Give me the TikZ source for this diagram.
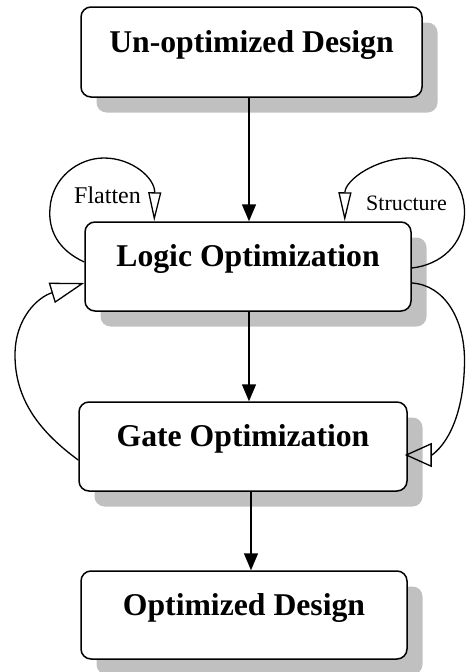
\documentclass[tikz,border=0pt]{standalone}
\usepackage{fontspec}
\setmainfont{Liberation Serif}
\usetikzlibrary{arrows.meta,shadows}
\definecolor{shadowgray}{RGB}{192,192,192}

\tikzset{
  stagebox/.style={
    draw, line width=1.5pt, rounded corners=10pt, fill=white,
    inner sep=0pt, text height=10pt, text depth=10pt,
    font=\bfseries\fontsize{31.7}{36}\selectfont,
    general shadow={fill=shadowgray, shadow xshift=15.5pt, shadow yshift=-15.5pt}
  },
  flow/.style={line width=1.5pt, -{Triangle[length=17pt,width=14pt]}},
  loopline/.style={line width=1.3pt},
  looplabel/.style={inner sep=0pt, anchor=base, font=\fontsize{22}{26}\selectfont}
}

\begin{document}
\begin{tikzpicture}[x=1pt,y=-1pt]
\useasboundingbox (0,0) rectangle (466,672);

% flow stages
\node[stagebox, minimum width=341pt, minimum height=90pt] (b1) at (251.5,52) {Un-optimized Design};
\node[stagebox, minimum width=326pt, minimum height=89pt] (b2) at (248,266.5) {Logic Optimization};
\node[stagebox, minimum width=328pt, minimum height=89pt] (b3) at (243,446.5) {Gate Optimization};
\node[stagebox, minimum width=326pt, minimum height=88pt] (b4) at (244,615) {Optimized Design};

% main downward flow
\coordinate (x12) at (249,0);
\coordinate (x23) at (249,0);
\coordinate (x34) at (251,0);
\draw[flow] (b1.south -| x12) -- (b2.north -| x12);
\draw[flow] (b2.south -| x23) -- (b3.north -| x23);
\draw[flow] (b3.south -| x34) -- (b4.north -| x34);

% Flatten self-loop
\draw[loopline, -{Triangle[open,length=29pt,width=13pt]}]
  ([yshift=4.5pt]b2.west) .. controls (58,250) and (48,230) .. (50,208)
  .. controls (52,178) and (78,158) .. (104,158)
  .. controls (132,158) and (155,178) .. ([xshift=70pt]b2.north west);
\node[looplabel, font=\fontsize{24}{28}\selectfont] (flat) at (107.5,203) {Flatten};

% Structure self-loop
\draw[loopline, -{Triangle[open,length=29pt,width=13pt]}]
  ([yshift=-1.5pt]b2.east) .. controls (440,265) and (464.5,245) .. (464.5,212)
  .. controls (464.5,180) and (440,158) .. (410,158)
  .. controls (376,158) and (345,180) .. ([xshift=-67pt]b2.north east);
\node[looplabel] (struct) at (406.5,210.5) {Structure};

% feedback from gate back to logic
\draw[loopline, -{Triangle[open,length=34pt,width=21pt]}]
  ([yshift=-13.5pt]b3.west) .. controls (40,432) and (15,400) .. (15,355)
  .. controls (15,318) and (38,297) .. ([yshift=-16.5pt]b2.west);

% forward path from logic to gate
\draw[loopline, -{Triangle[open,length=27pt,width=24pt]}]
  ([yshift=-16.5pt]b2.east) .. controls (445,285) and (464.5,320) .. (464.5,360)
  .. controls (464.5,405) and (452,440) .. (432,455)
  -- ([xshift=-3pt,yshift=-8.5pt]b3.east);
\end{tikzpicture}
\end{document}
